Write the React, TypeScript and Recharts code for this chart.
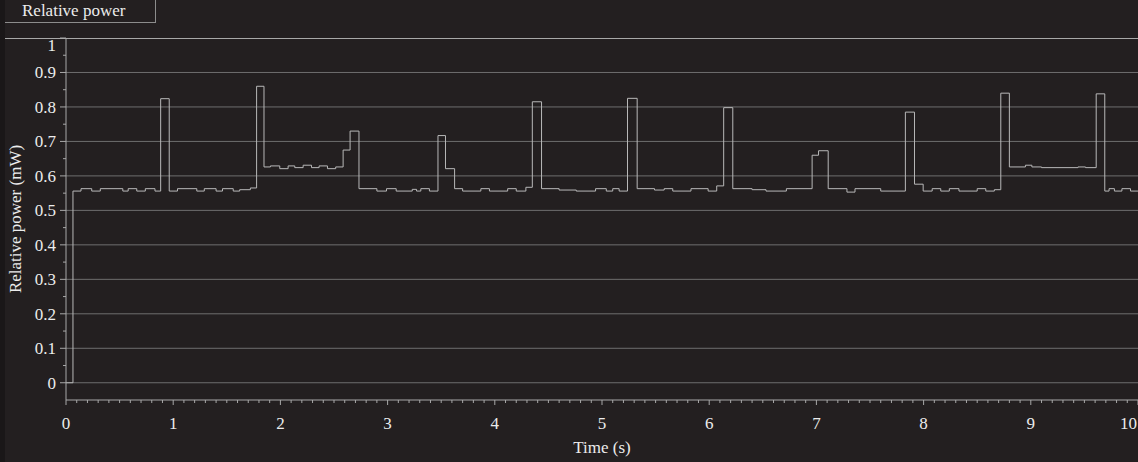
import React from 'react';
import { LineChart, Line, XAxis, YAxis, ReferenceLine } from 'recharts';

// step breakpoints of the power trace (s, mW)
const stepTimes = [
  0, 0.065, 0.14, 0.24, 0.32, 0.53, 0.58, 0.66, 0.74, 0.83,
  0.883, 0.963, 1.04, 1.22, 1.29, 1.4, 1.46, 1.56, 1.62, 1.72,
  1.778, 1.847, 1.907, 1.994, 2.072, 2.134, 2.212, 2.29, 2.361, 2.439,
  2.516, 2.585, 2.65, 2.733, 2.9, 2.99, 3.08, 3.23, 3.27, 3.31,
  3.39, 3.47, 3.54, 3.625, 3.7, 3.87, 3.95, 4.12, 4.2, 4.29,
  4.35, 4.436, 4.6, 4.76, 4.94, 5.04, 5.1, 5.16, 5.238, 5.328,
  5.49, 5.58, 5.66, 5.83, 5.99, 6.07, 6.135, 6.22, 6.4, 6.53,
  6.72, 6.96, 7.02, 7.11, 7.285, 7.36, 7.6, 7.83, 7.915, 7.996,
  8.08, 8.16, 8.24, 8.33, 8.5, 8.58, 8.66, 8.72, 8.8, 8.95,
  9.01, 9.1, 9.44, 9.51, 9.61, 9.69, 9.73, 9.78, 9.85, 9.93,
  10,
];
const stepPower = [
  0, 0.556, 0.563, 0.556, 0.563, 0.556, 0.563, 0.556, 0.563, 0.556,
  0.824, 0.556, 0.563, 0.556, 0.563, 0.556, 0.563, 0.556, 0.56, 0.565,
  0.86, 0.626, 0.629, 0.621, 0.629, 0.624, 0.631, 0.624, 0.629, 0.621,
  0.626, 0.675, 0.73, 0.563, 0.556, 0.563, 0.556, 0.561, 0.556, 0.563,
  0.556, 0.717, 0.621, 0.563, 0.556, 0.563, 0.556, 0.563, 0.556, 0.567,
  0.815, 0.563, 0.559, 0.556, 0.563, 0.556, 0.563, 0.556, 0.825, 0.563,
  0.559, 0.563, 0.556, 0.563, 0.556, 0.571, 0.798, 0.563, 0.56, 0.556,
  0.563, 0.66, 0.673, 0.563, 0.553, 0.563, 0.556, 0.785, 0.576, 0.556,
  0.563, 0.556, 0.563, 0.556, 0.563, 0.556, 0.56, 0.84, 0.626, 0.631,
  0.626, 0.624, 0.626, 0.624, 0.838, 0.556, 0.563, 0.556, 0.563, 0.556,
  0.556,
];

const xMajorTicks = [0, 1, 2, 3, 4, 5, 6, 7, 8, 9, 10];
const yMajorTicks = [0, 0.1, 0.2, 0.3, 0.4, 0.5, 0.6, 0.7, 0.8, 0.9, 1];
const yTickLabels = ['0', '0.1', '0.2', '0.3', '0.4', '0.5', '0.6', '0.7', '0.8', '0.9', '1'];

const data = stepTimes.map((t, i) => ({ t, p: stepPower[i] }));

const xTicks: number[] = [];
xMajorTicks.forEach((v, i) => {
  xTicks.push(v);
  if (i < xMajorTicks.length - 1) {
    for (let k = 1; k < 10; k++) xTicks.push(+(v + k / 10).toFixed(2));
  }
});
const yTicks: number[] = [];
yMajorTicks.forEach((v, i) => {
  yTicks.push(v);
  if (i < yMajorTicks.length - 1) yTicks.push(+(v + 0.05).toFixed(2));
});

const BG = '#231f20';
const FONT = '"Liberation Serif", "DejaVu Serif", serif';
const FS = 17;
const TEXT = '#ececec';
const AXIS = '#a8a8a8';
const GRID = '#6e6e6e';

const XTick = (props: any) => {
  const { x, y, payload } = props;
  const v = payload.value;
  const major = Math.abs(v - Math.round(v)) < 1e-6;
  const last = v === xMajorTicks[xMajorTicks.length - 1];
  return (
    <g>
      <line x1={x} x2={x} y1={y} y2={y + (major ? 5 : 3)} stroke={AXIS} strokeWidth={1} />
      {major && (
        <text
          x={last ? x - 1 : x}
          y={y + 29}
          textAnchor={last ? 'end' : 'middle'}
          fill={TEXT}
          fontSize={FS}
          fontFamily={FONT}
        >
          {String(Math.round(v))}
        </text>
      )}
    </g>
  );
};

const YTick = (props: any) => {
  const { x, y, payload } = props;
  const v = payload.value;
  const idx = yMajorTicks.findIndex((m) => Math.abs(m - v) < 1e-6);
  const major = idx >= 0;
  return (
    <g>
      <line x1={x - (major ? 6 : 3)} x2={x} y1={y} y2={y} stroke={AXIS} strokeWidth={1} />
      {major && (
        <text
          x={x - 10}
          y={y + 6 + (v === 1 ? 7 : 0)}
          textAnchor="end"
          fill={TEXT}
          fontSize={FS}
          fontFamily={FONT}
        >
          {yTickLabels[idx]}
        </text>
      )}
    </g>
  );
};

export default function App() {
  return (
    <div
      style={{
        position: 'fixed',
        left: 0,
        top: 0,
        width: 1138,
        height: 462,
        background: BG,
        overflow: 'hidden',
        fontFamily: FONT,
      }}
    >
      <div style={{ position: 'absolute', left: 0, top: 0, width: 5, height: 462, background: '#1a1718' }} />
      <div
        style={{
          position: 'absolute',
          left: 5,
          top: 0,
          width: 151,
          height: 23,
          borderRight: '1px solid #8c8c8c',
          borderBottom: '1px solid #8c8c8c',
          boxSizing: 'border-box',
          color: TEXT,
          fontSize: FS,
          lineHeight: '21px',
          paddingLeft: 17,
        }}
      >
        Relative power
      </div>
      <div style={{ position: 'absolute', left: 5, top: 38, width: 1133, height: 1, background: AXIS }} />
      <LineChart width={1138} height={462} data={data} margin={{ top: 38, right: 0, left: 0, bottom: 0 }}>
        {yMajorTicks.slice(0, -1).map((v) => (
          <ReferenceLine key={v} y={v} stroke={GRID} strokeWidth={1} />
        ))}
        <XAxis
          dataKey="t"
          type="number"
          domain={[0, 10]}
          ticks={xTicks}
          interval={0}
          height={62}
          tickSize={0}
          tickMargin={0}
          tickLine={false}
          axisLine={{ stroke: AXIS }}
          tick={<XTick />}
          allowDataOverflow
          label={{ value: 'Time (s)', position: 'insideBottom', offset: 9, fill: TEXT, fontSize: FS, fontFamily: FONT }}
        />
        <YAxis
          type="number"
          domain={[-0.05, 1]}
          ticks={yTicks}
          interval={0}
          width={66}
          tickSize={0}
          tickMargin={0}
          tickLine={false}
          axisLine={{ stroke: AXIS }}
          tick={<YTick />}
          allowDataOverflow
          label={{
            value: 'Relative power (mW)',
            angle: -90,
            position: 'insideLeft',
            offset: 15,
            style: { textAnchor: 'middle' },
            fill: TEXT,
            fontSize: FS,
            fontFamily: FONT,
          }}
        />
        <Line
          type="stepAfter"
          dataKey="p"
          stroke="#b8b8b8"
          strokeWidth={1}
          dot={false}
          isAnimationActive={false}
        />
      </LineChart>
    </div>
  );
}
